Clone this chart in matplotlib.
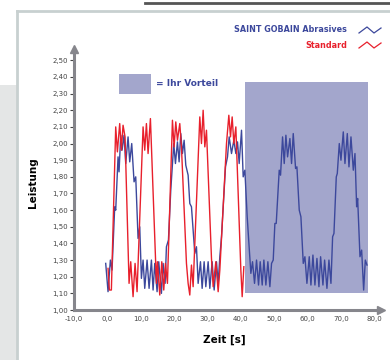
import matplotlib
matplotlib.use("Agg")
import matplotlib.pyplot as plt
from matplotlib.patches import Rectangle
from matplotlib.lines import Line2D

# Leistung über Zeit
blue_t = [-0.5, 0.2, 0.9, 1.4, 2.2, 2.5, 3.2, 3.5, 4.0, 4.4, 5.0, 5.5, 6.2, 6.7, 7.3, 8.0, 8.5,
          9.2, 9.7, 10.2, 10.7, 11.2, 11.9, 12.5, 13.2, 13.7, 14.2, 14.9, 15.4, 16.2, 16.7, 17.3,
          17.7, 18.3, 19.0, 19.9, 20.4, 21.0, 21.5, 22.0, 22.5, 23.0, 23.5, 24.2, 24.7, 25.2,
          26.2, 26.7, 27.2, 27.9, 28.4, 29.0, 29.5, 30.2, 30.7, 31.4, 32.0, 32.7, 33.2, 33.7,
          34.2, 34.7, 35.4, 36.0, 36.5, 37.2, 37.9, 38.5, 39.0, 39.5, 40.2, 40.7, 41.2, 41.9,
          42.5, 43.0, 43.5, 44.1, 44.7, 45.3, 45.8, 46.4, 46.9, 47.5, 48.1, 48.7, 49.2, 49.7,
          50.2, 50.6, 51.5, 51.9, 52.5, 53.0, 53.5, 54.0, 54.7, 55.2, 55.7, 56.4, 56.8, 57.5,
          58.0, 58.7, 59.2, 59.8, 60.5, 61.0, 61.6, 62.2, 62.8, 63.4, 63.9, 64.6, 65.1, 65.8,
          66.4, 67.0, 67.5, 67.9, 68.6, 68.9, 69.5, 70.0, 70.7, 71.2, 71.9, 72.4, 73.0, 73.7,
          74.2, 74.7, 75.0, 75.7, 76.2, 76.8, 77.3, 77.8]
blue_v = [1.28, 1.11, 1.30, 1.24, 1.62, 1.60, 1.92, 1.83, 2.05, 1.96, 2.05, 1.88, 2.04, 1.89, 2.00, 1.77, 1.80,
          1.43, 1.50, 1.19, 1.30, 1.13, 1.30, 1.13, 1.30, 1.12, 1.28, 1.11, 1.29, 1.10, 1.28, 1.16,
          1.38, 1.42, 1.72, 2.00, 1.88, 2.01, 1.89, 2.06, 1.94, 2.02, 1.87, 1.81, 1.64, 1.62,
          1.34, 1.38, 1.16, 1.29, 1.13, 1.29, 1.14, 1.29, 1.13, 1.29, 1.12, 1.29, 1.16, 1.32,
          1.44, 1.62, 1.86, 1.92, 2.04, 1.94, 2.02, 1.94, 2.01, 1.88, 2.08, 1.80, 1.84, 1.56,
          1.38, 1.22, 1.29, 1.16, 1.30, 1.15, 1.29, 1.15, 1.30, 1.15, 1.29, 1.14, 1.28, 1.30,
          1.52, 1.52, 1.84, 1.81, 2.04, 1.88, 2.05, 1.92, 2.03, 1.88, 2.06, 1.85, 1.86, 1.60,
          1.56, 1.28, 1.32, 1.16, 1.32, 1.15, 1.33, 1.15, 1.31, 1.14, 1.32, 1.15, 1.30, 1.13,
          1.30, 1.16, 1.44, 1.46, 1.80, 1.82, 2.00, 1.90, 2.07, 1.88, 2.06, 1.86, 2.04, 1.84,
          1.94, 1.62, 1.67, 1.32, 1.36, 1.12, 1.30, 1.27]

red_t = [0.2, 0.6, 1.2, 2.5, 3.0, 3.7, 4.2, 4.7, 5.3, 6.5, 7.0, 7.7, 8.3, 8.9, 10.7, 11.2, 11.7,
         12.2, 12.9, 14.7, 15.0, 15.7, 16.3, 16.9, 17.4, 18.0, 19.5, 20.0, 20.5, 21.0, 21.7, 22.2,
         23.7, 24.2, 24.7, 25.2, 25.7, 27.7, 28.2, 28.7, 29.2, 29.7, 31.2, 31.7, 32.5, 33.2, 33.7,
         35.7, 36.4, 36.9, 37.4, 37.9, 38.5, 40.0, 40.4, 40.9]
red_v = [1.25, 1.12, 1.12, 2.10, 1.95, 2.12, 1.96, 2.11, 2.04, 1.16, 1.29, 1.08, 1.28, 1.11, 2.10, 1.96, 2.12,
         1.94, 2.15, 1.16, 1.29, 1.09, 1.29, 1.12, 1.28, 1.16, 2.14, 1.98, 2.13, 2.02, 2.12, 1.98,
         1.28, 1.16, 1.09, 1.27, 1.14, 2.16, 2.00, 2.20, 1.98, 2.08, 1.31, 1.14, 1.29, 1.11, 1.24,
         2.00, 2.17, 2.04, 2.16, 2.00, 2.10, 1.24, 1.08, 1.26]

x_ticks = [-10, 0, 10, 20, 30, 40, 50, 60, 70, 80]
y_ticks = [1.0, 1.1, 1.2, 1.3, 1.4, 1.5, 1.6, 1.7, 1.8, 1.9, 2.0, 2.1, 2.2, 2.3, 2.4, 2.5]

# Vorteil-Bereich
adv_x = (41.2, 78.1)
adv_y = (1.10, 2.37)

BLUE = "#3c489c"
RED = "#e8202c"
SHADE = "#a3a6cc"
AXIS = "#86868c"

fig = plt.figure(figsize=(3.9, 3.6), dpi=100)
fig.patch.set_facecolor("white")

# Hintergrund / Rahmen
fig.patches.append(Rectangle((0, 0), 17 / 390, 275 / 360, transform=fig.transFigure,
                             facecolor="#e4e6e6", edgecolor="none", zorder=0))
fig.lines.append(Line2D([17 / 390, 17 / 390], [0, 1 - 11 / 360], transform=fig.transFigure,
                        color="#c8d0d0", lw=2))
fig.lines.append(Line2D([17 / 390, 1], [1 - 11 / 360, 1 - 11 / 360], transform=fig.transFigure,
                        color="#c8d0d0", lw=2))
fig.lines.append(Line2D([145 / 390, 1], [1 - 3 / 360, 1 - 3 / 360], transform=fig.transFigure,
                        color="#555555", lw=2))

ax = fig.add_axes([74 / 390, 50 / 360, (381 - 74) / 390, (308 - 50) / 360])
ax.set_facecolor("none")

ax.add_patch(Rectangle((adv_x[0], adv_y[0]), adv_x[1] - adv_x[0], adv_y[1] - adv_y[0],
                       facecolor=SHADE, edgecolor="none", zorder=1))
ax.add_patch(Rectangle((3.4, 2.30), 9.6, 0.12, facecolor=SHADE, edgecolor="none", zorder=1))
ax.text(14.5, 2.36, "= Ihr Vorteil", color=BLUE, fontsize=6.5, fontweight="bold",
        va="center", ha="left")

ax.plot(blue_t, blue_v, color=BLUE, lw=1.0, zorder=3)
ax.plot(red_t, red_v, color=RED, lw=1.0, zorder=4)

ax.set_xlim(-10, 82)
ax.set_ylim(1.0, 2.55)
ax.set_xticks(x_ticks)
ax.set_yticks(y_ticks)
ax.set_xticklabels([f"{v:.1f}".replace(".", ",") for v in x_ticks])
ax.set_yticklabels([f"{v:.2f}".replace(".", ",") for v in y_ticks])
ax.tick_params(axis="x", length=0, labelsize=5, labelcolor="#444444", pad=4)
ax.tick_params(axis="y", length=3, width=0.8, color="#444444", labelsize=5,
               labelcolor="#444444", pad=1.5)

for side in ("top", "right"):
    ax.spines[side].set_visible(False)
for side in ("left", "bottom"):
    ax.spines[side].set_color(AXIS)
    ax.spines[side].set_linewidth(2.2)
ax.plot(0, 1.01, marker="^", color=AXIS, markersize=6, transform=ax.transAxes, clip_on=False)
ax.plot(1.0, 0, marker=">", color=AXIS, markersize=6, transform=ax.transAxes, clip_on=False)

fig.text(33 / 390, 1 - 183 / 360, "Leistung", rotation=90, fontsize=7.5, fontweight="bold",
         ha="center", va="center")
fig.text(224 / 390, 1 - 340 / 360, "Zeit [s]", fontsize=7.5, fontweight="bold",
         ha="center", va="center")

# Legende oben rechts
fig.text(347 / 390, 1 - 30 / 360, "SAINT GOBAIN Abrasives", color=BLUE, fontsize=5.8,
         fontweight="bold", ha="right", va="center")
fig.text(347 / 390, 1 - 45 / 360, "Standard", color=RED, fontsize=5.8,
         fontweight="bold", ha="right", va="center")
zig_x = [359, 367, 374, 381]
for yy, col in ((30, BLUE), (45, RED)):
    zig_y = [yy + 3, yy - 3, yy + 3, yy - 2]
    fig.lines.append(Line2D([x / 390 for x in zig_x], [1 - y / 360 for y in zig_y],
                            transform=fig.transFigure, color=col, lw=0.9))

fig.savefig("out.png", dpi=100)
